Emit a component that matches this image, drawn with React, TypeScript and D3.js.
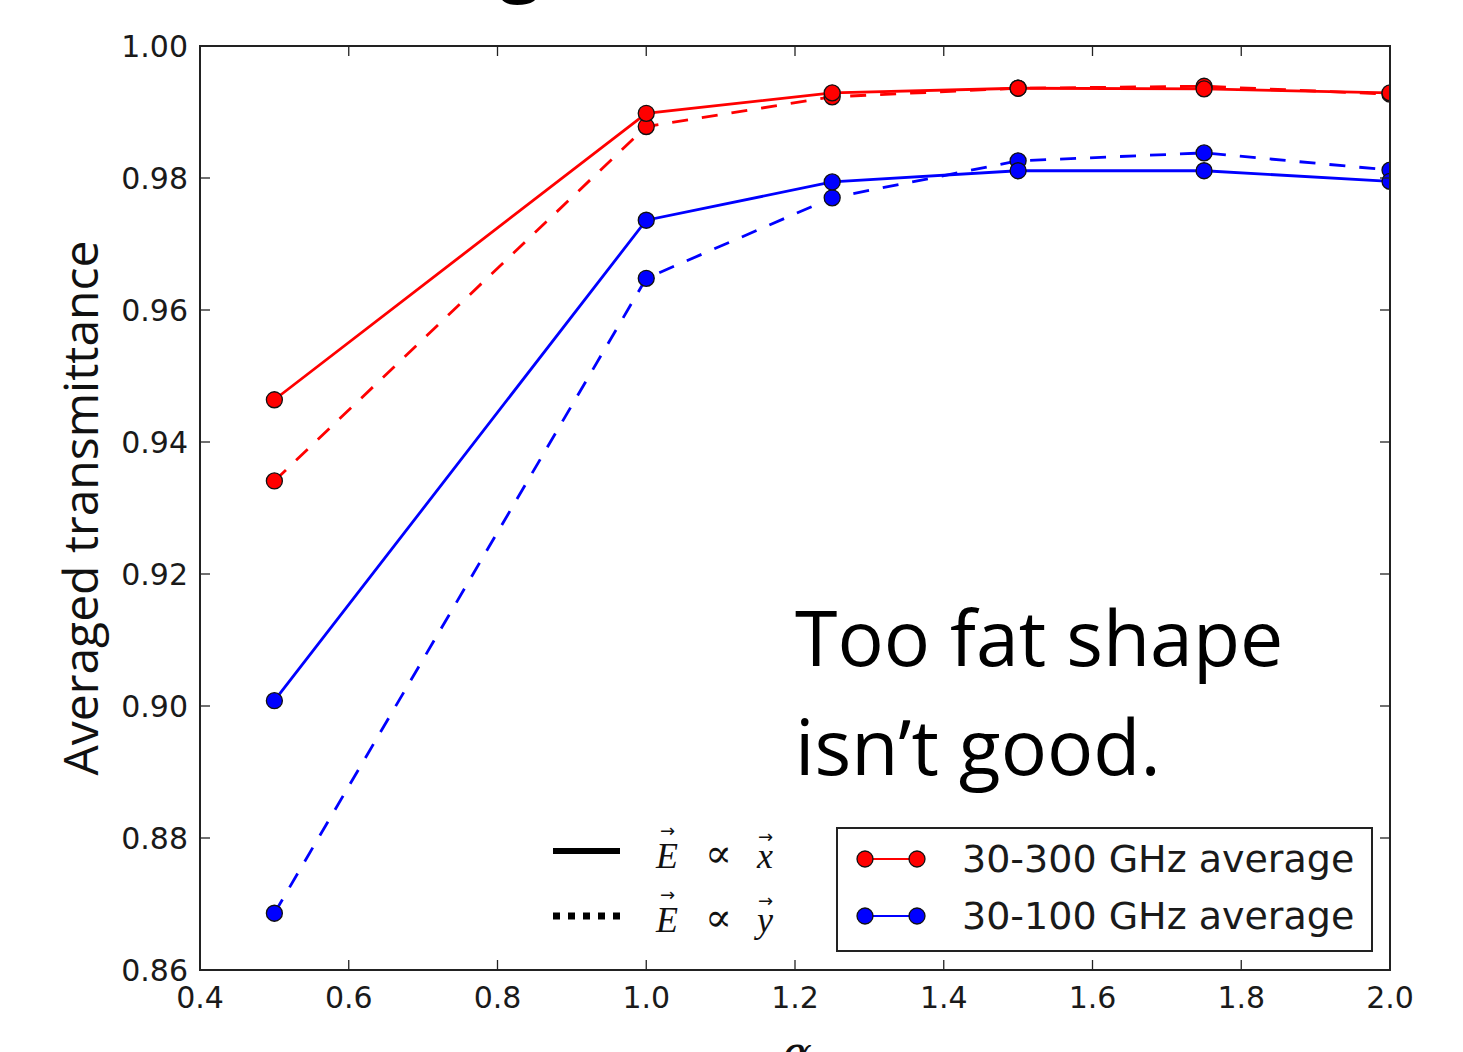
import React from "react";
import * as d3 from "d3";

const alpha = [0.5, 1.0, 1.25, 1.5, 1.75, 2.0];
const red_x = [0.9464, 0.9898, 0.9929, 0.9936, 0.9935, 0.9929];
const red_y = [0.9341, 0.9878, 0.9923, 0.9936, 0.9939, 0.9927];
const blue_x = [0.9008, 0.9736, 0.9794, 0.9811, 0.9811, 0.9795];
const blue_y = [0.8686, 0.9648, 0.977, 0.9826, 0.9838, 0.9812];
const xTicks = [0.4, 0.6, 0.8, 1.0, 1.2, 1.4, 1.6, 1.8, 2.0];
const yTicks = [0.86, 0.88, 0.9, 0.92, 0.94, 0.96, 0.98, 1.0];
const legendLabels = ["30-300 GHz average", "30-100 GHz average"];

const W = 1463, H = 1052;
const L = 200, R = 1390, T = 46, B = 970;

export default function App() {
  const x = d3.scaleLinear().domain([0.4, 2.0]).range([L, R]);
  const y = d3.scaleLinear().domain([0.86, 1.0]).range([B, T]);
  const line = d3.line<[number, number]>().x(d => x(d[0])).y(d => y(d[1]));
  const series = [
    { vals: blue_y, color: "#0000ff", dash: "16,14" },
    { vals: blue_x, color: "#0000ff", dash: null },
    { vals: red_y, color: "#ff0000", dash: "16,14" },
    { vals: red_x, color: "#ff0000", dash: null },
  ];
  const tickFont = "'DejaVu Sans', sans-serif";
  return (
    <svg width={W} height={H} style={{ position: "absolute", left: 0, top: 0, background: "#fff" }}>
      <defs>
        <clipPath id="plotclip">
          <rect x={L} y={T} width={R - L} height={B - T} />
        </clipPath>
      </defs>
      <rect x={0} y={0} width={W} height={H} fill="#fff" />
      {/* cut-off title descender */}
      <text x={500} y={-12} fontFamily="'Open Sans', sans-serif" fontSize={72} fontWeight={700} fill="#000">g</text>

      <g clipPath="url(#plotclip)">
        {series.map((s, i) => (
          <path key={"l" + i} d={line(alpha.map((a, j) => [a, s.vals[j]] as [number, number])) || ""}
            fill="none" stroke={s.color} strokeWidth={2.8} strokeDasharray={s.dash || undefined} />
        ))}
        {series.map((s, i) => (
          <g key={"m" + i}>
            {alpha.map((a, j) => (
              <circle key={j} cx={x(a)} cy={y(s.vals[j])} r={8} fill={s.color} stroke="#111" strokeWidth={1.3} />
            ))}
          </g>
        ))}
      </g>

      {/* frame */}
      <rect x={L} y={T} width={R - L} height={B - T} fill="none" stroke="#222" strokeWidth={2} />
      {/* ticks */}
      {xTicks.map((t, i) => (
        <g key={"xt" + i}>
          <line x1={x(t)} x2={x(t)} y1={B} y2={B - 10} stroke="#222" strokeWidth={1.3} />
          <line x1={x(t)} x2={x(t)} y1={T} y2={T + 10} stroke="#222" strokeWidth={1.3} />
          <text x={x(t)} y={1008} textAnchor="middle" fontFamily={tickFont} fontSize={30} fill="#1a1a1a">{d3.format(".1f")(t)}</text>
        </g>
      ))}
      {yTicks.map((t, i) => (
        <g key={"yt" + i}>
          <line x1={L} x2={L + 10} y1={y(t)} y2={y(t)} stroke="#222" strokeWidth={1.3} />
          <line x1={R} x2={R - 10} y1={y(t)} y2={y(t)} stroke="#222" strokeWidth={1.3} />
          <text x={188} y={y(t)} dy="0.36em" textAnchor="end" fontFamily={tickFont} fontSize={30} fill="#1a1a1a">{d3.format(".2f")(t)}</text>
        </g>
      ))}

      {/* axis labels */}
      <text transform={`translate(98,508) rotate(-90)`} textAnchor="middle" fontFamily="'Open Sans', sans-serif" fontSize={48} fill="#111">Averaged transmittance</text>
      <text x={797} y={1068} textAnchor="middle" fontFamily="'DejaVu Serif', serif" fontStyle="italic" fontSize={44} fill="#111">α</text>

      {/* annotation */}
      <text x={795} y={666} fontFamily="'Open Sans', sans-serif" fontSize={77} fill="#000">Too fat shape</text>
      <text x={795} y={775} fontFamily="'Open Sans', sans-serif" fontSize={77} fill="#000">isn’t good.</text>

      {/* line style legend */}
      <line x1={553} x2={620} y1={851} y2={851} stroke="#000" strokeWidth={6} />
      <line x1={553} x2={620} y1={916} y2={916} stroke="#000" strokeWidth={7} strokeDasharray="7,8" />
      {[868, 932].map((by, i) => (
        <g key={"ml" + i} fontFamily="'Liberation Serif', serif" fill="#111">
          <text x={656} y={by} fontStyle="italic" fontSize={36}>E</text>
          <text x={660} y={by - 31} fontFamily="'DejaVu Sans', sans-serif" fontSize={18}>→</text>
          <text x={705} y={by - 1} fontFamily="'DejaVu Serif', serif" fontSize={40}>∝</text>
          <text x={757} y={by} fontStyle="italic" fontSize={36}>{i === 0 ? "x" : "y"}</text>
          <text x={758} y={by - 25} fontFamily="'DejaVu Sans', sans-serif" fontSize={18}>→</text>
        </g>
      ))}

      {/* series legend */}
      <rect x={837} y={828} width={535} height={123} fill="#fff" stroke="#222" strokeWidth={2} />
      {legendLabels.map((lab, i) => {
        const cy = 859 + i * 57;
        const c = i === 0 ? "#ff0000" : "#0000ff";
        return (
          <g key={"lg" + i}>
            <line x1={865} x2={917} y1={cy} y2={cy} stroke={c} strokeWidth={2} />
            <circle cx={865} cy={cy} r={8} fill={c} stroke="#111" strokeWidth={1.3} />
            <circle cx={917} cy={cy} r={8} fill={c} stroke="#111" strokeWidth={1.3} />
            <text x={962} y={cy + 13} fontFamily={tickFont} fontSize={38} fill="#1a1a1a">{lab}</text>
          </g>
        );
      })}
    </svg>
  );
}
